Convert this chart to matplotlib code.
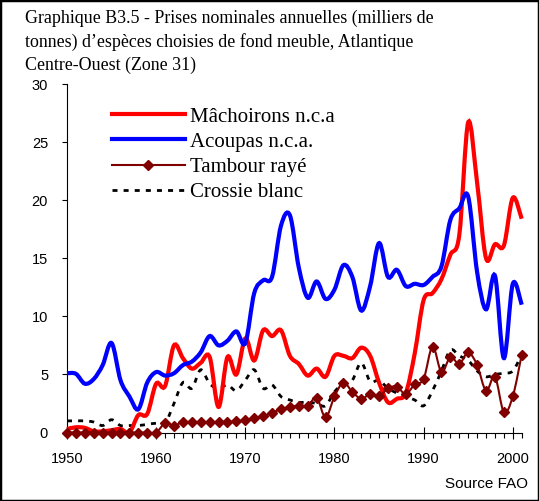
import numpy as np
import matplotlib
matplotlib.use("Agg")
import matplotlib.pyplot as plt
import matplotlib.patches as patches
from matplotlib.path import Path
from matplotlib.lines import Line2D

years = np.arange(1950, 2002)

machoirons = [0.3, 0.45, 0.4, 0.1, 0.1, 0.2, 0.3, 0.0, 1.5, 1.6,
              4.2, 4.0, 7.5, 6.4, 5.5, 6.0, 6.5, 2.2, 6.5, 5.0,
              8.1, 6.2, 8.8, 8.3, 8.8, 6.6, 5.9, 4.9, 5.5, 4.8,
              6.6, 6.6, 6.4, 7.3, 6.6, 4.3, 2.6, 2.9, 3.4, 6.8,
              11.4, 12.0, 13.2, 15.3, 17.0, 26.7, 21.5, 15.0, 16.2, 16.1,
              20.2, 18.4]
acoupas = [5.1, 5.05, 4.2, 4.6, 5.8, 7.7, 4.5, 3.1, 2.0, 4.3,
           5.2, 4.9, 5.1, 5.8, 6.1, 6.9, 8.3, 7.5, 7.9, 8.7,
           7.7, 12.0, 13.1, 13.4, 17.8, 18.7, 14.2, 11.6, 13.0, 11.5,
           12.3, 14.4, 13.4, 10.5, 12.6, 16.3, 13.4, 14.0, 12.6, 12.8,
           12.7, 13.4, 14.3, 18.3, 19.3, 20.3, 13.8, 10.6, 13.5, 6.4,
           12.8, 11.0]
tambour = [0, 0, 0, 0, 0, 0, 0, 0, 0, 0,
           0, 0.8, 0.6, 0.9, 0.9, 0.9, 0.9, 0.9, 0.9, 0.95,
           1.05, 1.25, 1.4, 1.7, 2.0, 2.2, 2.3, 2.3, 3.0, 1.3,
           3.1, 4.3, 3.5, 2.9, 3.3, 3.1, 3.8, 3.95, 3.3, 4.15,
           4.6, 7.4, 5.2, 6.5, 5.9, 6.9, 5.8, 3.6, 4.8, 1.75,
           3.1, 6.7]
crossie = [1.0, 1.0, 1.0, 0.9, 0.6, 1.1, 0.6, 0.6, 0.6, 0.7,
           0.8, 0.8, 2.5, 4.3, 3.8, 5.4, 4.2, 3.8, 4.1, 3.6,
           4.5, 5.4, 3.8, 4.1, 3.1, 2.8, 2.6, 2.6, 2.5, 2.3,
           3.5, 4.2, 4.5, 6.0, 4.4, 4.5, 3.8, 3.4, 3.1, 2.8,
           2.3, 3.6, 5.3, 7.1, 6.6, 6.2, 5.3, 4.8, 5.0, 5.1,
           5.3, 6.7]

labels = ["Mâchoirons n.c.a", "Acoupas n.c.a.", "Tambour rayé", "Crossie blanc"]
title = ("Graphique B3.5 - Prises nominales annuelles (milliers de\n"
         "tonnes) d\u2019espèces choisies de fond meuble, Atlantique\n"
         "Centre-Ouest (Zone 31)")


def smooth_path(x, y):
    # smoothed line like the spreadsheet one: cubic bezier through each point
    pts = np.column_stack([x, y]).astype(float)
    n = len(pts)
    verts = [pts[0]]
    codes = [Path.MOVETO]
    for i in range(n - 1):
        p0 = pts[max(i - 1, 0)]
        p1 = pts[i]
        p2 = pts[i + 1]
        p3 = pts[min(i + 2, n - 1)]
        verts += [p1 + (p2 - p0) / 6, p2 - (p3 - p1) / 6, p2]
        codes += [Path.CURVE4] * 3
    return Path(verts, codes)


fig = plt.figure(figsize=(5.39, 5.01), dpi=100)
ax = fig.add_axes([67 / 539, 1 - 432.5 / 501, (521.7 - 67) / 539, (432.5 - 84) / 501])

dark_red = "#800000"
styles = [
    dict(edgecolor="#ff0000", lw=3.0, linestyle="-"),
    dict(edgecolor="#0000ff", lw=3.0, linestyle="-"),
    dict(edgecolor=dark_red, lw=1.5, linestyle="-"),
    dict(edgecolor="black", lw=2.0, linestyle=(0, (1.8, 2.2))),
]
series = [machoirons, acoupas, tambour, crossie]
zorders = [3, 4, 5, 2]

for vals, st, z in zip(series, styles, zorders):
    pp = patches.PathPatch(smooth_path(years, vals), fill=False, zorder=z,
                           clip_on=False, capstyle="butt", **st)
    ax.add_patch(pp)

ax.plot(years, tambour, linestyle="none", marker="D", markersize=5,
        color=dark_red, zorder=6, clip_on=False)

ax.set_xlim(1950, 2001)
ax.set_ylim(0, 30)

for s in ["top", "right"]:
    ax.spines[s].set_visible(False)
for s in ["left", "bottom"]:
    ax.spines[s].set_linewidth(0.8)

ax.set_yticks(np.arange(0, 31, 5))
ax.set_xticks(np.arange(1950, 2001, 10))
ax.set_xticks(years, minor=True)
ax.tick_params(axis="y", direction="out", length=3.6, width=0.8, pad=10,
               labelsize=10.5)
ax.tick_params(axis="x", which="major", direction="inout", length=8, width=0.8,
               pad=10, labelsize=10.5)
ax.tick_params(axis="x", which="minor", direction="out", length=3.5, width=0.8)
for lab in ax.get_xticklabels() + ax.get_yticklabels():
    lab.set_family("Liberation Sans")

handles = [
    Line2D([], [], color="#ff0000", lw=3.0),
    Line2D([], [], color="#0000ff", lw=3.0),
    Line2D([], [], color=dark_red, lw=1.5, marker="D", markersize=5),
    Line2D([], [], color="black", lw=2.0, linestyle=(0, (1.8, 2.2))),
]
leg = ax.legend(handles, labels, loc="upper left",
                bbox_to_anchor=(112 / 539, 1 - 107 / 501),
                bbox_transform=fig.transFigure, frameon=False,
                prop={"family": "Liberation Serif", "size": 15},
                handlelength=3.5, handletextpad=0.25, labelspacing=0.27,
                borderpad=0, borderaxespad=0, markerfirst=True)

fig.text(25 / 539, 1 - 10 / 501, title, ha="left", va="top",
         family="Liberation Serif", fontsize=12.9, linespacing=1.42)
fig.text(528 / 539, 1 - 484 / 501, "Source FAO", ha="right", va="center",
         family="Liberation Sans", fontsize=11)

fig.patches.append(patches.Rectangle((0, 0), 1, 1, transform=fig.transFigure,
                                     fill=False, edgecolor="black", lw=2.5))

fig.savefig("out.png", dpi=100)
